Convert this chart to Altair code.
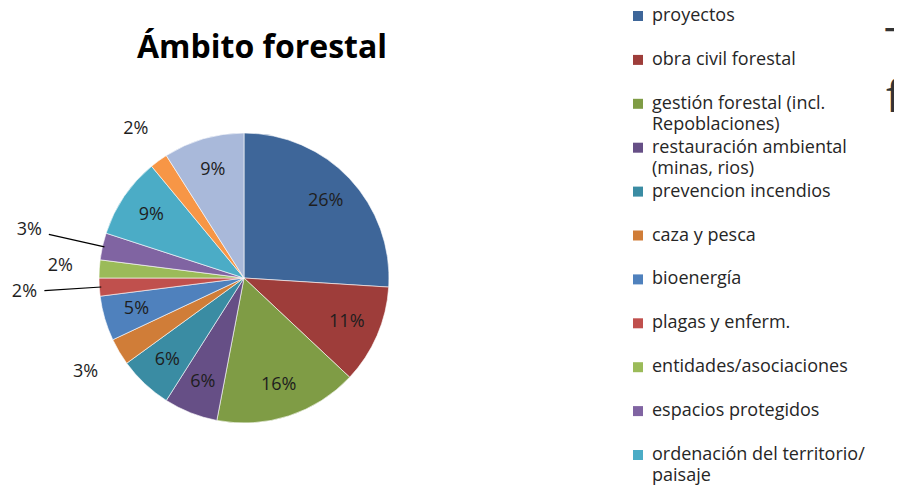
import altair as alt
import pandas as pd

# ---- data -------------------------------------------------------------
categories = [
    "proyectos", "obra civil forestal", "gestión forestal (incl. Repoblaciones)",
    "restauración ambiental (minas, rios)", "prevencion incendios", "caza y pesca",
    "bioenergía", "plagas y enferm.", "entidades/asociaciones", "espacios protegidos",
    "ordenación del territorio/ paisaje", "otros (a)", "otros (b)",
]
values = [26, 11, 16, 6, 6, 3, 5, 2, 2, 3, 9, 2, 9]
colors = ["#3E6699", "#9E3D3A", "#7F9C45", "#664F86", "#3A8CA3", "#D07D38",
          "#4F81BD", "#C0504D", "#9BBB59", "#8064A2", "#4BACC6", "#F79646", "#A9B9DA"]

legend_line1 = ["proyectos", "obra civil forestal", "gestión forestal (incl.",
                "restauración ambiental", "prevencion incendios", "caza y pesca",
                "bioenergía", "plagas y enferm.", "entidades/asociaciones",
                "espacios protegidos", "ordenación del territorio/"]
legend_line2 = ["", "", "Repoblaciones)", "(minas, rios)", "", "", "", "", "", "", "paisaje"]

title_text = "Ámbito forestal"
edge_texts = ["T", "f"]          # cut-off slide text at the right edge
leader_cats = ["plagas y enferm.", "espacios protegidos"]

# ---- tables -----------------------------------------------------------
pie_df = pd.DataFrame({
    "cat": categories,
    "value": values,
    "idx": list(range(len(categories))),
    "label": [f"{v}%" for v in values],
})
leg_df = pd.DataFrame({
    "cat": categories[:len(legend_line1)],
    "l1": legend_line1,
    "l2": legend_line2,
})

FONT = "Open Sans"
CX, CY, R = 236, 270, 145
color_scale = alt.Scale(domain=categories, range=colors)

base = alt.Chart(pie_df).encode(
    theta=alt.Theta("value:Q", stack=True),
    order=alt.Order("idx:Q"),
    x=alt.value(CX), y=alt.value(CY),
)

arcs = base.mark_arc(radius=R, stroke="#ffffff", strokeWidth=0.6).encode(
    color=alt.Color("cat:N", scale=color_scale, legend=None)
)

lab_style = dict(font=FONT, fontSize=18, color="#1e1e1e")

inside = base.mark_text(radius=112, **lab_style).encode(
    detail="cat:N",
    text=alt.condition(alt.datum.value >= 5, alt.Text("label:N"), alt.value("")),
)

outside = base.mark_text(radius=184, **lab_style).encode(
    detail="cat:N",
    text=alt.condition(
        (alt.datum.value < 5) & (alt.datum.cat != leader_cats[0]) & (alt.datum.cat != leader_cats[1]),
        alt.Text("label:N"), alt.value("")),
)

far = base.mark_text(radius=220, **lab_style).encode(
    detail="cat:N",
    text=alt.condition(
        (alt.datum.cat == leader_cats[0]) | (alt.datum.cat == leader_cats[1]),
        alt.Text("label:N"), alt.value("")),
)

leaders = alt.Chart(pie_df).transform_window(
    cum="sum(value)", sort=[alt.SortField("idx")], frame=[None, 0]
).transform_joinaggregate(total="sum(value)").transform_calculate(
    a="(datum.cum - datum.value/2) / datum.total * 2 * PI"
).transform_filter(
    alt.FieldOneOfPredicate(field="cat", oneOf=leader_cats)
).transform_calculate(
    x1=f"{CX} + {R - 2} * sin(datum.a)",
    y1=f"{CY} - {R - 2} * cos(datum.a)",
    x2=f"{CX} + 200 * sin(datum.a)",
    y2=f"{CY} - 200 * cos(datum.a)",
).mark_rule(color="#000000", strokeWidth=1.2).encode(
    x=alt.X("x1:Q", scale=None), y=alt.Y("y1:Q", scale=None),
    x2="x2:Q", y2="y2:Q",
)

title = alt.Chart(pd.DataFrame({"t": [title_text]})).mark_text(
    font=FONT, fontSize=32, fontWeight="bold", color="#000000", baseline="alphabetic"
).encode(text="t:N", x=alt.value(254), y=alt.value(50))

edge_style = dict(font=FONT, fontSize=44, color="#333333", align="left", baseline="alphabetic")
edge_t = alt.Chart(pd.DataFrame({"t": [edge_texts[0]]})).mark_text(**edge_style).encode(
    text="t:N", x=alt.value(877), y=alt.value(51))
edge_f = alt.Chart(pd.DataFrame({"t": [edge_texts[1]]})).mark_text(**edge_style).encode(
    text="t:N", x=alt.value(878), y=alt.value(104))

yscale = alt.Scale(type="point", domain=leg_df["cat"].tolist(), range=[8, 447], padding=0)
leg_base = alt.Chart(leg_df).encode(y=alt.Y("cat:N", scale=yscale, axis=None))

squares = leg_base.mark_square(size=100, opacity=1).encode(
    x=alt.value(630), color=alt.Color("cat:N", scale=color_scale, legend=None)
)
leg_style = dict(align="left", baseline="middle", font=FONT, fontSize=18, color="#262626")
leg_t1 = leg_base.mark_text(**leg_style).encode(x=alt.value(644), text="l1:N")
leg_t2 = leg_base.mark_text(dy=21, **leg_style).encode(x=alt.value(644), text="l2:N")

chart = alt.layer(arcs, inside, outside, far, leaders, title, edge_t, edge_f,
                  squares, leg_t1, leg_t2).properties(
    width=886, height=477, padding=0,
    autosize=alt.AutoSizeParams(type="none"),
).configure_view(stroke=None)

chart.save("out.html", embed_options={"renderer": "svg", "actions": False})
